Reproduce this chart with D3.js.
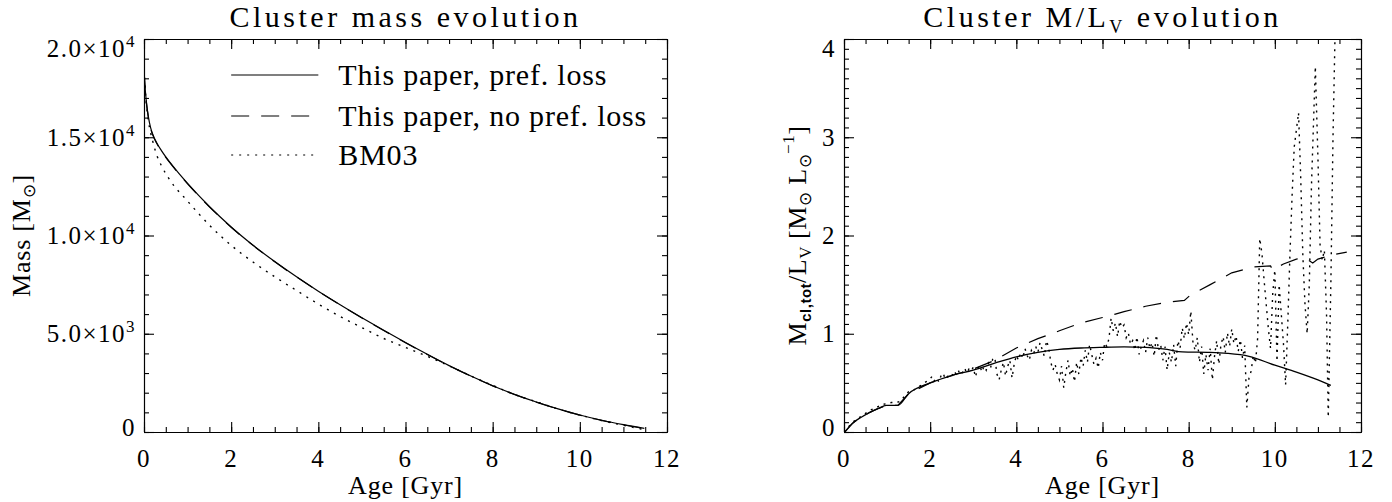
<!DOCTYPE html>
<html><head><meta charset="utf-8">
<script src="https://cdn.jsdelivr.net/npm/d3@7"></script>
<style>
body{margin:0;background:#fff}
svg{display:block}
text{font-family:"Liberation Serif",serif;fill:#000}
</style>
</head><body>
<svg id="c" width="1392" height="502"></svg>
<script>
// ---------- Left panel: cluster mass ----------
const massAge   = [0, 0.02, 0.05, 0.1, 0.15, 0.2, 0.3, 0.4, 0.5, 0.66, 0.8, 1.0, 1.5, 2.0, 2.5, 3.0, 3.5, 4.0, 4.5, 5.0, 5.5, 6.0, 6.5, 7.0, 7.5, 8.0, 8.5, 9.0, 9.5, 10.0, 10.5, 11.0, 11.48];
const massPref  = [18450, 17700, 16900, 16050, 15500, 15150, 14680, 14320, 14000, 13540, 13160, 12650, 11475, 10435, 9510, 8672, 7897, 7167, 6475, 5813, 5175, 4553, 3953, 3378, 2846, 2356, 1916, 1526, 1176, 866, 598, 373, 183];
const massNoPref= [18400, 17650, 16850, 16010, 15470, 15120, 14660, 14300, 13980, 13520, 13140, 12630, 11460, 10420, 9500, 8660, 7890, 7160, 6470, 5805, 5168, 4546, 3946, 3372, 2840, 2350, 1910, 1520, 1170, 860, 592, 368, 178];
const bmAge     = [0, 0.05, 0.1, 0.2, 0.3, 0.4, 0.6, 1.0, 1.5, 2.0, 2.5, 3.0, 3.5, 4.0, 4.5, 5.0, 5.5, 6.0, 6.5, 7.0, 7.5, 8.0, 8.5, 9.0, 9.5, 10.0, 10.5, 11.0, 11.48];
const massBM03  = [18450, 16800, 15850, 14800, 14050, 13550, 12800, 11750, 10530, 9500, 8650, 7900, 7200, 6510, 5880, 5310, 4760, 4300, 3850, 3370, 2850, 2370, 1910, 1540, 1170, 860, 580, 340, 120];
const massTicks = [0, 5000, 10000, 15000, 20000];
const massTickLabels = [["0",""], ["5.0×10","3"], ["1.0×10","4"], ["1.5×10","4"], ["2.0×10","4"]];
const ageTicks = [0, 2, 4, 6, 8, 10, 12];
const legendLabels = ["This paper, pref. loss", "This paper, no pref. loss", "BM03"];

// ---------- Right panel: M/L_V ----------
const mlAge    = [0, 0.2, 0.4, 0.6, 0.8, 0.98, 1.25, 1.5, 2.0, 2.5, 3.0, 3.5, 4.0, 4.5, 5.0, 5.5, 6.0, 6.5, 7.0, 7.5, 7.85, 8.5, 8.9, 9.4, 10.0, 10.5, 11.0, 11.3];
const mlPref   = [-0.01, 0.09, 0.15, 0.2, 0.24, 0.27, 0.27, 0.39, 0.5, 0.575, 0.63, 0.70, 0.765, 0.81, 0.84, 0.855, 0.862, 0.866, 0.862, 0.84, 0.815, 0.81, 0.80, 0.77, 0.68, 0.61, 0.53, 0.475];
const mlNoPrefAge = [0, 0.2, 0.4, 0.6, 0.8, 0.98, 1.25, 1.5, 2.0, 2.5, 3.0, 3.5, 4.0, 4.5, 5.0, 5.5, 6.0, 6.3, 6.5, 7.0, 7.5, 7.9, 8.03, 8.5, 9.0, 9.5, 9.9, 9.95, 10.2, 10.5, 10.7, 10.88, 11.0, 11.3, 11.67];
const mlNoPref = [-0.01, 0.09, 0.15, 0.2, 0.24, 0.27, 0.27, 0.39, 0.5, 0.575, 0.64, 0.73, 0.855, 0.95, 1.03, 1.11, 1.165, 1.20, 1.225, 1.28, 1.32, 1.34, 1.39, 1.50, 1.62, 1.68, 1.69, 1.65, 1.71, 1.76, 1.77, 1.72, 1.76, 1.80, 1.83];
const mlBM03Age = [0, 0.1, 0.2, 0.3, 0.4, 0.5, 0.6, 0.7, 0.8, 0.9, 1.0, 1.1, 1.2, 1.3, 1.4, 1.5, 1.6, 1.7, 1.8, 1.9,
  2.0, 2.05, 2.1, 2.15, 2.2, 2.25, 2.3, 2.35, 2.4, 2.45, 2.5, 2.55, 2.6, 2.65, 2.7, 2.75, 2.8, 2.85, 2.9, 2.95,
  3.0, 3.05, 3.1, 3.15, 3.2, 3.25, 3.3, 3.35, 3.4, 3.45, 3.5, 3.55, 3.6, 3.65, 3.7, 3.75, 3.8, 3.85, 3.9, 3.95,
  4.0, 4.05, 4.1, 4.15, 4.2, 4.25, 4.3, 4.35, 4.4, 4.45, 4.5, 4.55, 4.6, 4.65, 4.7, 4.75, 4.8, 4.85, 4.9, 4.95,
  5.0, 5.05, 5.1, 5.15, 5.2, 5.25, 5.3, 5.35, 5.4, 5.45, 5.5, 5.55, 5.6, 5.65, 5.7, 5.75, 5.8, 5.85, 5.9, 5.95,
  6.0, 6.05, 6.1, 6.15, 6.2, 6.25, 6.3, 6.35, 6.4, 6.45, 6.5, 6.55, 6.6, 6.65, 6.7, 6.75, 6.8, 6.85, 6.9, 6.95,
  7.0, 7.05, 7.1, 7.15, 7.2, 7.25, 7.3, 7.35, 7.4, 7.45, 7.5, 7.55, 7.6, 7.65, 7.7, 7.75, 7.8, 7.85, 7.9, 7.95,
  8.0, 8.05, 8.1, 8.15, 8.2, 8.25, 8.3, 8.35, 8.4, 8.45, 8.5, 8.55, 8.6, 8.65, 8.7, 8.75, 8.8, 8.85, 8.9, 8.95,
  9.0, 9.05, 9.1, 9.15, 9.2, 9.25, 9.3, 9.35, 9.4, 9.45, 9.5, 9.55, 9.6, 9.65, 9.7, 9.75, 9.8, 9.85, 9.9, 9.95,
  10.0, 10.05, 10.1, 10.15, 10.2, 10.25, 10.3, 10.35, 10.4, 10.45, 10.55, 10.6, 10.65, 10.7, 10.75, 10.8, 10.85, 10.94, 11.0, 11.05,
  11.1, 11.15, 11.2, 11.24, 11.3, 11.35, 11.4, 11.45];
const mlBM03 = [0.0, 0.05, 0.1, 0.13, 0.16, 0.19, 0.22, 0.24, 0.26, 0.28, 0.29, 0.3, 0.3, 0.31, 0.36, 0.41, 0.42, 0.45, 0.48, 0.51,
  0.54, 0.57, 0.52, 0.55, 0.51, 0.57, 0.60, 0.54, 0.56, 0.59, 0.57, 0.62, 0.59, 0.63, 0.58, 0.61, 0.65, 0.60, 0.64, 0.62,
  0.66, 0.56, 0.64, 0.68, 0.61, 0.67, 0.63, 0.70, 0.65, 0.74, 0.76, 0.59, 0.53, 0.63, 0.71, 0.57, 0.67, 0.73, 0.55, 0.69,
  0.78, 0.73, 0.81, 0.75, 0.85, 0.78, 0.73, 0.83, 0.79, 0.87, 0.81, 0.91, 0.84, 0.77, 0.93, 0.86, 0.71, 0.63, 0.69, 0.59,
  0.53, 0.67, 0.45, 0.61, 0.73, 0.57, 0.65, 0.51, 0.71, 0.59, 0.76, 0.67, 0.83, 0.71, 0.89, 0.79, 0.69, 0.75, 0.65, 0.81,
  0.73, 0.91, 0.87, 0.95, 1.16, 1.03, 1.11, 0.97, 1.13, 1.06, 1.09, 0.96, 1.01, 0.89, 0.93, 0.83, 0.97, 0.79, 0.87, 0.93,
  0.81, 0.96, 0.85, 0.91, 0.77, 0.99, 0.83, 0.89, 0.73, 0.87, 0.63, 0.81, 0.71, 0.89, 0.67, 0.93, 0.85, 1.06, 0.95, 1.11,
  0.99, 1.23, 0.91, 0.83, 0.96, 0.71, 0.87, 0.59, 0.79, 0.63, 0.85, 0.53, 0.77, 0.93, 0.69, 0.89, 0.97, 0.81, 1.01, 0.87,
  1.05, 0.90, 0.98, 0.82, 0.94, 0.75, 0.88, 0.25, 0.55, 0.62, 0.78, 0.70, 0.95, 1.97, 1.82, 1.55, 1.30, 1.05, 0.85, 1.40,
  1.65, 0.72, 1.50, 1.20, 0.90, 0.48, 1.10, 1.80, 2.40, 2.90, 3.25, 2.60, 1.80, 1.30, 1.00, 1.50, 2.50, 3.72, 2.80, 1.90,
  1.75, 1.85, 1.20, 0.15, 1.50, 3.00, 4.10, 4.20];
const mlTicks = [0, 1, 2, 3, 4];

// ---------- Layout ----------
const svg = d3.select("#c");
const L = {x0: 144, x1: 667, y0: 39, y1: 432};
const R = {x0: 844, x1: 1361, y0: 39, y1: 432};
const TICKFONT = 25;

function frame(P, xs, ys, yMinor, yLabels) {
  const g = svg.append("g");
  const xMinor = d3.range(0, 25, 1).map(v => v / 2);
  const axes = [
    [d3.axisBottom(xs).tickValues(xMinor).tickSize(-5), `translate(0,${P.y1})`],
    [d3.axisBottom(xs).tickValues(ageTicks).tickSize(-10), `translate(0,${P.y1})`],
    [d3.axisTop(xs).tickValues(xMinor).tickSize(-5), `translate(0,${P.y0})`],
    [d3.axisTop(xs).tickValues(ageTicks).tickSize(-10), `translate(0,${P.y0})`],
    [d3.axisLeft(ys).tickValues(yMinor).tickSize(-5), `translate(${P.x0},0)`],
    [d3.axisLeft(ys).tickValues(yLabels.values).tickSize(-10), `translate(${P.x0},0)`],
    [d3.axisRight(ys).tickValues(yMinor).tickSize(-5), `translate(${P.x1},0)`],
    [d3.axisRight(ys).tickValues(yLabels.values).tickSize(-10), `translate(${P.x1},0)`]
  ];
  axes.forEach(([ax, tr]) => g.append("g").attr("transform", tr).call(ax.tickSizeOuter(0).tickFormat("")));
  g.selectAll(".domain, .tick line").attr("stroke", "#000").attr("stroke-width", 1.1);
  ageTicks.forEach(v => {
    g.append("text").attr("x", xs(v)).attr("y", 467).attr("text-anchor", "middle")
      .attr("font-size", TICKFONT).attr("letter-spacing", 1.5).text(d3.format("d")(v));
  });
  yLabels.values.forEach((v, i) => {
    let y = ys(v);
    y = Math.max(P.y0 + 9, Math.min(P.y1 - 5, y));
    const t = g.append("text").attr("x", P.x0 - 8).attr("y", y + 8.5)
      .attr("text-anchor", "end").attr("font-size", TICKFONT).attr("letter-spacing", 1.5);
    const lab = yLabels.labels[i];
    t.append("tspan").text(lab[0]);
    if (lab[1]) t.append("tspan").attr("dy", -10).attr("font-size", 17).text(lab[1]);
  });
  return g;
}

const xL = d3.scaleLinear().domain([0, 12]).range([L.x0, L.x1]);
const yL = d3.scaleLinear().domain([0, 20000]).range([L.y1, L.y0]);
frame(L, xL, yL, d3.range(0, 20001, 1000), {values: massTicks, labels: massTickLabels});

const xR = d3.scaleLinear().domain([0, 12]).range([R.x0, R.x1]);
const yR = d3.scaleLinear().domain([0, 4]).range([R.y1, R.y0]);
frame(R, xR, yR, d3.range(0, 41, 1).map(v => v / 10), {values: mlTicks, labels: mlTicks.map(v => [String(v), ""])});

const defs = svg.append("defs");
defs.append("clipPath").attr("id", "clipL").append("rect").attr("x", L.x0).attr("y", L.y0).attr("width", L.x1 - L.x0).attr("height", L.y1 - L.y0);
defs.append("clipPath").attr("id", "clipR").append("rect").attr("x", R.x0).attr("y", R.y0).attr("width", R.x1 - R.x0).attr("height", R.y1 - R.y0);

const DASH = "18,12", DOT = "2,6";

function drawLine(clip, xs, ys, ax, ay, dash, w, curve) {
  const line = d3.line().x((d, i) => xs(ax[i])).y((d, i) => ys(ay[i]));
  if (curve) line.curve(d3.curveMonotoneX);
  svg.append("path").attr("clip-path", `url(#${clip})`).datum(ay)
    .attr("d", line).attr("fill", "none").attr("stroke", "#000")
    .attr("stroke-width", w).attr("stroke-dasharray", dash);
}

drawLine("clipL", xL, yL, bmAge, massBM03, DOT, 1.4, true);
drawLine("clipL", xL, yL, massAge, massNoPref, DASH, 1.2, true);
drawLine("clipL", xL, yL, massAge, massPref, null, 1.2, true);

drawLine("clipR", xR, yR, mlBM03Age, mlBM03, "2,5", 1.4, false);
drawLine("clipR", xR, yR, mlNoPrefAge, mlNoPref, DASH, 1.2, false);
drawLine("clipR", xR, yR, mlAge, mlPref, null, 1.3, true);

// Legend
const legY = [75, 116, 155];
const legDash = [null, DASH, DOT];
legendLabels.forEach((lab, i) => {
  svg.append("line").attr("x1", xL(2)).attr("x2", xL(4)).attr("y1", legY[i]).attr("y2", legY[i])
    .attr("stroke", "#000").attr("stroke-width", 1.2).attr("stroke-dasharray", legDash[i]);
  svg.append("text").attr("x", xL(4) + 20).attr("y", legY[i] + 10).attr("font-size", 30).attr("letter-spacing", 0.8).text(lab);
});

// Titles
svg.append("text").attr("x", (L.x0 + L.x1) / 2).attr("y", 27).attr("text-anchor", "middle").attr("font-size", 30).attr("letter-spacing", 3.5).text("Cluster mass evolution");
const tR = svg.append("text").attr("x", (R.x0 + R.x1) / 2).attr("y", 27).attr("text-anchor", "middle").attr("font-size", 30).attr("letter-spacing", 3.5);
tR.append("tspan").text("Cluster M/L");
tR.append("tspan").attr("dy", 6).attr("font-size", 18).text("V");
tR.append("tspan").attr("dy", -6).text(" evolution");

// X labels
[L, R].forEach(P => {
  svg.append("text").attr("x", (P.x0 + P.x1) / 2).attr("y", 494).attr("text-anchor", "middle")
    .attr("font-size", 26).attr("letter-spacing", 0.8).text("Age [Gyr]");
});

// Y labels
const yl1 = svg.append("text").attr("transform", `translate(30,${(L.y0 + L.y1) / 2}) rotate(-90)`).attr("text-anchor", "middle").attr("font-size", 26).attr("letter-spacing", 0.8);
yl1.append("tspan").text("Mass [M");
yl1.append("tspan").attr("dy", 5).attr("font-size", 17).text("⊙");
yl1.append("tspan").attr("dy", -5).text("]");

const yl2 = svg.append("text").attr("transform", `translate(${R.x0 - 38},${(R.y0 + R.y1) / 2}) rotate(-90)`).attr("text-anchor", "middle").attr("font-size", 26).attr("letter-spacing", 0.5);
yl2.append("tspan").text("M");
yl2.append("tspan").attr("dy", 5).attr("font-size", 15).attr("font-family", "Liberation Sans").attr("font-weight", "bold").text("cl,tot");
yl2.append("tspan").attr("dy", -5).text("/L");
yl2.append("tspan").attr("dy", 5).attr("font-size", 17).text("V");
yl2.append("tspan").attr("dy", -5).text(" [M");
yl2.append("tspan").attr("dy", 5).attr("font-size", 17).text("⊙");
yl2.append("tspan").attr("dy", -5).text(" L");
yl2.append("tspan").attr("dy", 5).attr("font-size", 17).text("⊙");
yl2.append("tspan").attr("dy", -17).attr("font-size", 17).text("−1");
yl2.append("tspan").attr("dy", 12).text("]");
</script>
</body></html>
